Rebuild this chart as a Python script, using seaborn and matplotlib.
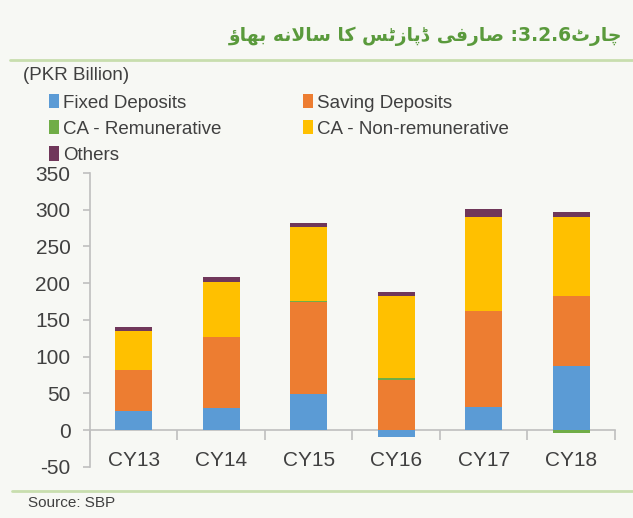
import re
import pandas as pd
import numpy as np
import matplotlib
matplotlib.use("Agg")
import matplotlib.pyplot as plt
import seaborn as sns
from matplotlib.patches import Patch
from matplotlib.lines import Line2D

# =========================
# DATA
# =========================
years = ["CY13", "CY14", "CY15", "CY16", "CY17", "CY18"]
fixed = [26.5, 29.3, 48.5, -10.0, 31.6, 87.4]
saving = [55.0, 97.0, 125.3, 68.6, 130.8, 94.6]
ca_rem = [0.0, 0.5, 2.3, 2.4, 0.0, -4.5]
ca_nonrem = [53.1, 75.0, 100.3, 111.0, 128.1, 108.5]
others = [5.5, 5.9, 6.0, 5.6, 11.0, 5.9]

series_names = ["Fixed Deposits", "Saving Deposits", "CA - Remunerative",
                "CA - Non-remunerative", "Others"]
colors = ["#5B9BD5", "#ED7D31", "#70AD47", "#FFC000", "#70375A"]

title_ur = "چارٹ3.2.6: صارفی ڈپازٹس کا سالانہ بہاؤ"
unit_label = "(PKR Billion)"
source_text = "Source: SBP"
yticks = [-50, 0, 50, 100, 150, 200, 250, 300, 350]

# =========================
# URDU SHAPING (matplotlib has no bidi / joining)
# =========================
FORMS = {  # isolated, final, initial, medial
    "ا": ("\uFE8D", "\uFE8E", None, None),
    "ب": ("\uFE8F", "\uFE90", "\uFE91", "\uFE92"),
    "پ": ("\uFB56", "\uFB57", "\uFB58", "\uFB59"),
    "ٹ": ("\uFB66", "\uFB67", "\uFB68", "\uFB69"),
    "چ": ("\uFB7A", "\uFB7B", "\uFB7C", "\uFB7D"),
    "ر": ("\uFEAD", "\uFEAE", None, None),
    "ڈ": ("\uFB88", "\uFB89", None, None),
    "ز": ("\uFEAF", "\uFEB0", None, None),
    "س": ("\uFEB1", "\uFEB2", "\uFEB3", "\uFEB4"),
    "ص": ("\uFEB9", "\uFEBA", "\uFEBB", "\uFEBC"),
    "ف": ("\uFED1", "\uFED2", "\uFED3", "\uFED4"),
    "ک": ("\uFB8E", "\uFB8F", "\uFB90", "\uFB91"),
    "ل": ("\uFEDD", "\uFEDE", "\uFEDF", "\uFEE0"),
    "ن": ("\uFEE5", "\uFEE6", "\uFEE7", "\uFEE8"),
    # heh goal: installed fonts lack its joined forms, use the heh glyphs
    "ہ": ("\uFEE9", "\uFEEA", "\uFEEB", "\uFEEC"),
    "ی": ("\uFBFC", "\uFBFD", "\uFBFE", "\uFBFF"),
    "ؤ": ("\uFE85", "\uFE86", None, None),
}


def shape_urdu(text):
    out = []
    i = 0
    while i < len(text):
        c = text[i]
        if c not in FORMS:
            out.append(c)
            i += 1
            continue
        prev_joins = i > 0 and text[i - 1] in FORMS and FORMS[text[i - 1]][2] is not None
        if c == "ل" and i + 1 < len(text) and text[i + 1] == "ا":
            out.append("\uFEFC" if prev_joins else "\uFEFB")
            i += 2
            continue
        iso, fin, ini, med = FORMS[c]
        next_joins = ini is not None and i + 1 < len(text) and text[i + 1] in FORMS
        if prev_joins and next_joins:
            out.append(med)
        elif prev_joins:
            out.append(fin)
        elif next_joins:
            out.append(ini)
        else:
            out.append(iso)
        i += 1
    vis = "".join(out)[::-1]
    return re.sub(r"[0-9.]+", lambda m: m.group()[::-1], vis)


# =========================
# STYLE
# =========================
bg = "#F7F8F4"
sns.set_theme(style="white")
plt.rcParams["font.family"] = ["Liberation Sans", "DejaVu Sans"]
plt.rcParams["font.size"] = 13
plt.rcParams["axes.unicode_minus"] = False

fig = plt.figure(figsize=(6.33, 5.18), dpi=100, facecolor=bg)
ax = fig.add_axes([0.142, 0.099, 0.8295, 0.567], facecolor=bg)

# =========================
# STACKED BARS (overlap of cumulative sums)
# =========================
data = pd.DataFrame({"year": years})
layers = [fixed, saving, ca_rem, ca_nonrem, others]
pos = np.cumsum([np.clip(v, 0, None) for v in layers], axis=0)
neg = np.cumsum([np.clip(v, None, 0) for v in layers], axis=0)

for k in range(len(layers) - 1, -1, -1):
    data["top"] = pos[k]
    sns.barplot(data=data, x="year", y="top", color=colors[k], saturation=1,
                width=0.42, errorbar=None, linewidth=0, ax=ax)
for k in range(len(layers) - 1, -1, -1):
    data["bot"] = neg[k]
    sns.barplot(data=data, x="year", y="bot", color=colors[k], saturation=1,
                width=0.42, errorbar=None, linewidth=0, ax=ax)

# =========================
# AXES
# =========================
ax.set_xlim(-0.5, len(years) - 0.5)
ax.set_ylim(-50, 350)
ax.set_yticks(yticks)
ax.set_xlabel("")
ax.set_ylabel("")
for s in ["top", "right"]:
    ax.spines[s].set_visible(False)
ax.spines["bottom"].set_position(("data", 0))
for s in ["left", "bottom"]:
    ax.spines[s].set_color("#BFBFBF")
    ax.spines[s].set_linewidth(1.2)
ax.spines["bottom"].set_zorder(0.5)

ax.set_xticks(np.arange(-0.5, len(years)), minor=True)
ax.tick_params(axis="x", which="major", length=0, pad=15, labelsize=15, colors="#404040")
ax.tick_params(axis="x", which="minor", direction="out", length=7, width=1.2, color="#BFBFBF")
ax.tick_params(axis="y", direction="out", length=5, width=1.2, color="#BFBFBF",
               pad=9, labelsize=15, labelcolor="#404040")
ax.tick_params(left=True, bottom=False)
ax.tick_params(axis="x", which="minor", bottom=True)

# =========================
# LEGEND + TEXTS
# =========================
handles = [Patch(facecolor=c, edgecolor="none") for c in colors]
order = [0, 2, 4, 1, 3]
fig.legend([handles[i] for i in order], [series_names[i] for i in order],
           ncol=2, loc="upper left", bbox_to_anchor=(49 / 633, 1 - 94 / 518),
           frameon=False, fontsize=13.5, handlelength=0.55, handleheight=0.8,
           handletextpad=0.2, columnspacing=4.35, labelspacing=0.45,
           borderpad=0, borderaxespad=0, labelcolor="#404040")

fig.text(23 / 633, 1 - 76 / 518, unit_label, fontsize=13.5, color="#404040", va="center")
fig.text(28 / 633, 1 - 503 / 518, source_text, fontsize=11, color="#404040", va="center")

fig.text(622 / 633, 1 - 36 / 518, shape_urdu(title_ur), fontsize=13.5, color="#5A9A3C",
         ha="right", va="center", fontweight="bold", family=["DejaVu Sans"])

fig.add_artist(Line2D([10 / 633, 1], [1 - 60 / 518] * 2, color="#C8DEAE", lw=2))
fig.add_artist(Line2D([12 / 633, 1], [1 - 491 / 518] * 2, color="#C8DEAE", lw=2))

plt.savefig("out.png", dpi=100, facecolor=bg)
plt.close()
